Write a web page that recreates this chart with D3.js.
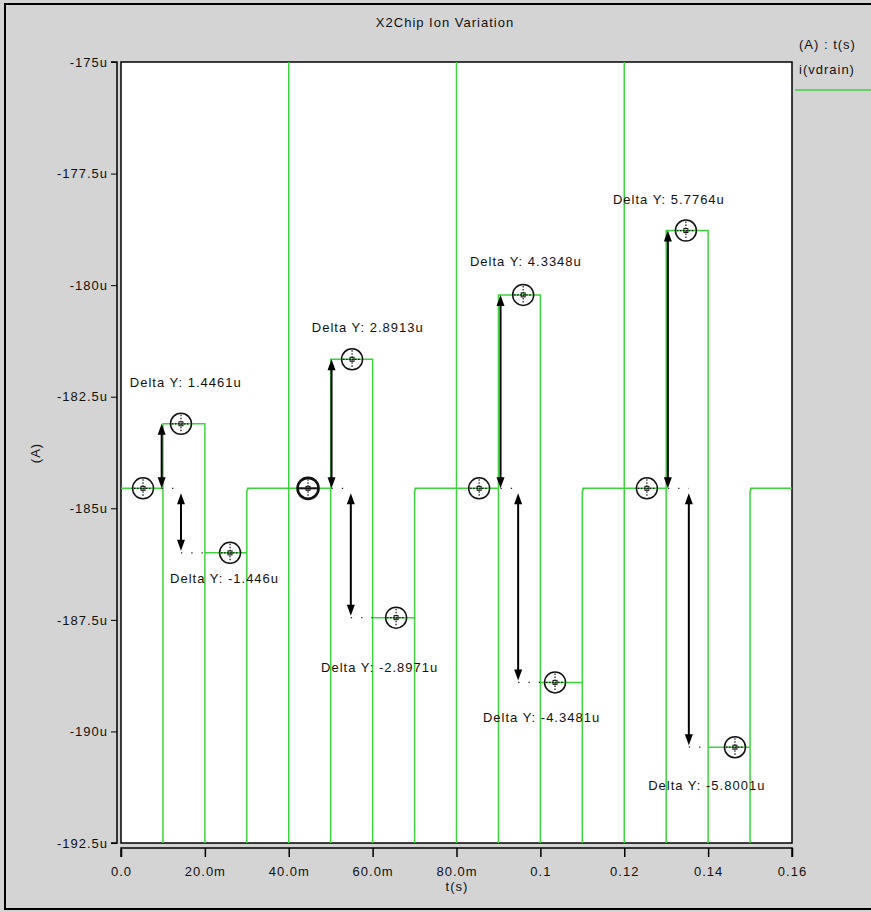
<!DOCTYPE html>
<html>
<head>
<meta charset="utf-8">
<script src="https://cdn.jsdelivr.net/npm/d3@7/dist/d3.min.js"></script>
<style>
  html, body { margin: 0; padding: 0; background: #d4d4d4; }
  svg { display: block; }
  text { font-family: "Liberation Sans", Arial, sans-serif; font-size: 13px; letter-spacing: 1px; fill: #111; }
</style>
</head>
<body>
<script>
// ---- data (current in microamps, time in seconds) ----
const title = "X2Chip Ion Variation";
const seriesName = "i(vdrain)";
const axisPair = "(A) : t(s)";
const yTicks = [-175, -177.5, -180, -182.5, -185, -187.5, -190, -192.5];
const xTicks = [0, 0.02, 0.04, 0.06, 0.08, 0.1, 0.12, 0.14, 0.16];
const xTickLabels = ["0.0", "20.0m", "40.0m", "60.0m", "80.0m", "0.1", "0.12", "0.14", "0.16"];

const baseline = -184.553;
// measured steps (Delta Y) relative to the baseline level
const deltas = [1.4461, -1.446, 2.8913, -2.8971, 4.3348, -4.3481, 5.7764, -5.8001];

// 10 ms intervals: [start, end, step index or null for baseline]
const intervals = [
  [0.00, 0.01, null], [0.01, 0.02, 0], [0.02, 0.03, 1], [0.03, 0.04, null],
  [0.04, 0.05, null], [0.05, 0.06, 2], [0.06, 0.07, 3], [0.07, 0.08, null],
  [0.08, 0.09, null], [0.09, 0.10, 4], [0.10, 0.11, 5], [0.11, 0.12, null],
  [0.12, 0.13, null], [0.13, 0.14, 6], [0.14, 0.15, 7], [0.15, 0.16, null]
];
// switching glitches at the interval edges: off-scale low, and off-scale both ways
const glitchLow = -200;
const glitchHigh = -168;
const fullGlitchTimes = [0.04, 0.08, 0.12];

// cursor markers: [time, step index or null]
const cursors = [
  [0.00525, null], [0.0143, 0], [0.026, 1],
  [0.0446, null], [0.0551, 2], [0.0656, 3],
  [0.0854, null], [0.0959, 4], [0.1035, 5],
  [0.1254, null], [0.1347, 6], [0.1464, 7]
];
// delta arrows: [time, step index]
const arrows = [
  [0.0097, 0], [0.0143, 1],
  [0.0502, 2], [0.0548, 3],
  [0.0905, 4], [0.0947, 5],
  [0.1304, 6], [0.1354, 7]
];
// label anchors (time, current)
const labelAt = [
  [0.0021, -182.28], [0.0117, -186.67],
  [0.0455, -181.05], [0.0477, -188.67],
  [0.0832, -179.57], [0.0863, -189.79],
  [0.1173, -178.18], [0.1257, -191.31]
];

const levelOf = k => k === null ? baseline : baseline + deltas[k];

// ---- layout ----
const W = 871, H = 912;
const P = { left: 121, right: 792, top: 62, bottom: 843 };
const green = "#3fd23f";

const svg = d3.select("body").append("svg").attr("width", W).attr("height", H);

svg.append("rect").attr("x", 0).attr("y", 0).attr("width", W).attr("height", H).attr("fill", "#d4d4d4");
svg.append("rect").attr("x", 5).attr("y", 4).attr("width", W + 10).attr("height", H - 7)
  .attr("fill", "none").attr("stroke", "#000").attr("stroke-width", 2);

const x = d3.scaleLinear().domain([0, 0.16]).range([P.left, P.right]);
const y = d3.scaleLinear().domain([-192.5, -175]).range([P.bottom, P.top]);

// plot area
svg.append("rect").attr("x", P.left).attr("y", P.top)
  .attr("width", P.right - P.left).attr("height", P.bottom - P.top)
  .attr("fill", "#fff").attr("stroke", "#000").attr("stroke-width", 1.5);

svg.append("defs").append("clipPath").attr("id", "clip")
  .append("rect").attr("x", P.left).attr("y", P.top)
  .attr("width", P.right - P.left).attr("height", P.bottom - P.top);

// axes
const yAxis = d3.axisLeft(y).tickValues(yTicks).tickFormat(d => d + "u").tickSize(6).tickPadding(3);
const gy = svg.append("g").attr("transform", `translate(${P.left - 4},0)`).call(yAxis);
gy.select(".domain").attr("d", `M-6,${P.top}H0V${P.bottom}H-6`).attr("stroke-width", 1.5);
gy.selectAll("text").style("font-size", "13px").attr("fill", "#111");

const xAxis = d3.axisBottom(x).tickValues(xTicks).tickFormat((d, i) => xTickLabels[i]).tickSize(9).tickPadding(10);
const gx = svg.append("g").attr("transform", `translate(0,${P.bottom + 5})`).call(xAxis);
gx.select(".domain").attr("d", `M${P.left},9V0H${P.right}V9`).attr("stroke-width", 1.5);
gx.selectAll(".tick line").attr("stroke-width", 1.5);
gx.selectAll("text").style("font-size", "13px").attr("fill", "#111");

// titles
svg.append("text").attr("x", 445).attr("y", 27).attr("text-anchor", "middle").text(title);
svg.append("text").attr("x", 457).attr("y", 891).attr("text-anchor", "middle").text("t(s)");
svg.append("text").attr("transform", "translate(40,453) rotate(-90)").attr("text-anchor", "middle").text("(A)");

// legend
svg.append("text").attr("x", 799).attr("y", 49).text(axisPair);
svg.append("text").attr("x", 799).attr("y", 74).text(seriesName);
svg.append("line").attr("x1", 795).attr("x2", W).attr("y1", 90).attr("y2", 90)
  .attr("stroke", green).attr("stroke-width", 1.5);

// waveform
const pts = [];
intervals.forEach(([t0, t1, k], i) => {
  const v = levelOf(k);
  if (i > 0) {
    pts.push([t0, glitchLow]);
    if (fullGlitchTimes.includes(t0)) { pts.push([t0, glitchHigh]); pts.push([t0, glitchLow]); }
    const prev = intervals[i - 1][2];
    if (k === null && prev !== null) {
      // slow recovery into the baseline
      pts.push([t0, v - 0.06]);
      pts.push([t0 + 0.0003, v - 0.012]);
    }
  }
  pts.push([t0, v]);
  pts.push([t1, v]);
});
const line = d3.line().x(d => x(d[0])).y(d => y(d[1]));
svg.append("g").attr("clip-path", "url(#clip)")
  .append("path").attr("d", line(pts)).attr("fill", "none")
  .attr("stroke", green).attr("stroke-width", 1.5);

// dotted guides
const guides = svg.append("g").attr("stroke", "#222").attr("stroke-width", 1.3)
  .attr("stroke-dasharray", "1.3,9").attr("fill", "none");
arrows.forEach(([t, k], i) => {
  if (deltas[k] < 0) {
    const tPos = arrows[i - 1][0];
    guides.append("line").attr("x1", x(tPos)).attr("x2", x(t))
      .attr("y1", y(baseline)).attr("y2", y(baseline));
    guides.append("line").attr("x1", x(t)).attr("x2", x(intervals.find(d => d[2] === k)[0]))
      .attr("y1", y(levelOf(k))).attr("y2", y(levelOf(k)));
  }
});

// double headed arrows
const ag = svg.append("g");
const head = (px, py, dir) => `M${px},${py}L${px - 4},${py - dir * 11}L${px + 4},${py - dir * 11}Z`;
arrows.forEach(([t, k]) => {
  const px = x(t);
  let a = y(baseline), b = y(levelOf(k));
  if (deltas[k] < 0) { a += 5; b -= 2; }
  const top = Math.min(a, b), bot = Math.max(a, b);
  ag.append("line").attr("x1", px).attr("x2", px).attr("y1", top + 4).attr("y2", bot - 4)
    .attr("stroke", "#000").attr("stroke-width", 2);
  ag.append("path").attr("d", head(px, top, -1)).attr("fill", "#000");
  ag.append("path").attr("d", head(px, bot, 1)).attr("fill", "#000");
});

// cursor markers
const mg = svg.append("g");
cursors.forEach(([t, k], i) => {
  const cx = x(t), cy = y(levelOf(k));
  const bold = i === 3;
  const g = mg.append("g").attr("transform", `translate(${cx},${cy})`);
  g.append("circle").attr("r", 10.5).attr("fill", "none").attr("stroke", "#111")
    .attr("stroke-width", bold ? 2.6 : 1.5);
  g.append("line").attr("x1", -9).attr("x2", 9).attr("stroke", "#111")
    .attr("stroke-width", bold ? 2 : 1.2).attr("stroke-dasharray", bold ? null : "1.5,1.5");
  g.append("line").attr("y1", -9).attr("y2", 9).attr("stroke", "#111")
    .attr("stroke-width", 1.2).attr("stroke-dasharray", "1.5,1.5");
  g.append("rect").attr("x", -2).attr("y", -2).attr("width", 4).attr("height", 4)
    .attr("fill", "none").attr("stroke", "#111").attr("stroke-width", 1);
});

// delta labels
deltas.forEach((d, i) => {
  svg.append("text").attr("x", x(labelAt[i][0])).attr("y", y(labelAt[i][1]))
    .text(`Delta Y: ${d}u`);
});
</script>
</body>
</html>
